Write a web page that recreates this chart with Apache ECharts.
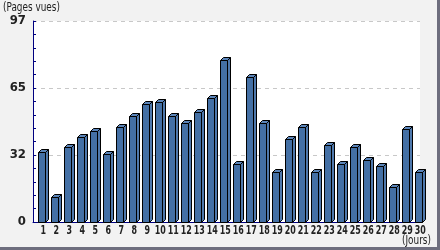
<!DOCTYPE html>
<html>
<head>
<meta charset="utf-8">
<script src="https://cdn.jsdelivr.net/npm/echarts@6/dist/echarts.min.js"></script>
<style>
html,body{margin:0;padding:0;background:#f2f2f2;}
#c{width:440px;height:250px;}
</style>
</head>
<body>
<div id="c"></div>
<script>
const days = ['1','2','3','4','5','6','7','8','9','10','11','12','13','14','15','16','17','18','19','20','21','22','23','24','25','26','27','28','29','30'];
const pageViews = [34,12,36,41,44,33,46,51,57,58,51,48,53,60,78,28,70,48,24,40,46,24,37,28,36,30,27,17,45,24];
const yMax = 97;
const yTickCount = 3;
const yAxisTitle = '(Pages vues)';
const xAxisTitle = '(Jours)';

const FONT = "'DejaVu Sans Condensed','DejaVu Sans',sans-serif";
const chart = echarts.init(document.getElementById('c'), null, {renderer: 'canvas'});

function render3DBar(params, api) {
  const idx = api.value(0);
  const v = api.value(1);
  const top = api.coord([idx, v]);
  const base = api.coord([idx, 0]);
  const xc = Math.round(top[0]);
  const yT = Math.round(top[1]) + 0.5;
  const y0 = Math.round(base[1]) + 0.5;
  const xl = xc - 5 + 0.5, xm = xc + 2 + 0.5, xr = xc + 5 + 0.5, d = 3;
  const st = {stroke: '#000', lineWidth: 1};
  return {
    type: 'group',
    children: [
      {type: 'polygon', shape: {points: [[xm, y0], [xr, y0 - d], [xr, yT - d], [xm, yT]]}, style: Object.assign({fill: '#4f79ad'}, st)},
      {type: 'polygon', shape: {points: [[xl, yT], [xl + d, yT - d], [xr, yT - d], [xm, yT]]}, style: Object.assign({fill: '#5b85ba'}, st)},
      {type: 'rect', shape: {x: xl, y: yT, width: xm - xl, height: y0 - yT}, style: Object.assign({fill: '#4470a5'}, st)}
    ]
  };
}

function renderDayLabel(params, api) {
  const idx = api.value(0);
  const base = api.coord([idx, 0]);
  return {
    type: 'text',
    x: base[0], y: base[1] + 2,
    scaleX: 0.68,
    style: {text: days[idx], textAlign: 'center', textVerticalAlign: 'top', font: 'bold 13px ' + FONT, fill: '#222'}
  };
}

chart.setOption({
  animation: false,
  backgroundColor: '#f2f2f2',
  grid: [
    {left: 33, right: 20, top: 21, bottom: 28, show: true, backgroundColor: '#ffffff', borderWidth: 0},
    {left: 36.8, right: 13.2, top: 21, bottom: 28}
  ],
  xAxis: [
    {gridIndex: 0, type: 'value', min: 0, max: 1, show: true,
     axisLine: {show: true, lineStyle: {color: '#000080', width: 1}},
     axisTick: {show: false}, axisLabel: {show: false}, splitLine: {show: false}},
    {gridIndex: 1, type: 'category', data: days, boundaryGap: true,
     axisLine: {show: false}, axisTick: {show: false}, axisLabel: {show: false},
     splitLine: {show: false}}
  ],
  yAxis: [
    {gridIndex: 0, type: 'value', min: 0, max: yMax, interval: yMax / yTickCount,
     axisLine: {show: true, lineStyle: {color: '#000080', width: 1}},
     axisTick: {show: true, inside: true, length: 3, lineStyle: {color: '#000080'}},
     minorTick: {show: true, splitNumber: 5, length: 3, lineStyle: {color: '#000080'}},
     axisLabel: {formatter: v => String(Math.round(v)), color: '#222', fontFamily: FONT, fontSize: 13, margin: 7, fontWeight: 'bold'},
     splitLine: {show: true, lineStyle: {color: '#c8c8c8', type: [4, 4], width: 1}},
     minorSplitLine: {show: false}},
    {gridIndex: 1, type: 'value', min: 0, max: yMax, show: false}
  ],
  graphic: [
    {type: 'text', x: 3, y: 1, scaleX: 0.76, style: {text: yAxisTitle, font: '13px ' + FONT, fill: '#222'}},
    {type: 'text', x: 402, y: 234, scaleX: 0.76, style: {text: xAxisTitle, font: '13px ' + FONT, fill: '#222'}},
    {type: 'rect', shape: {x: 437, y: 0, width: 3, height: 250}, style: {fill: '#6e6e7e'}},
    {type: 'rect', shape: {x: 0, y: 247, width: 440, height: 3}, style: {fill: '#6e6e7e'}}
  ],
  series: [{
    type: 'custom',
    xAxisIndex: 1, yAxisIndex: 1,
    renderItem: render3DBar,
    encode: {x: 0, y: 1},
    data: pageViews.map((v, i) => [i, v])
  }, {
    type: 'custom',
    xAxisIndex: 1, yAxisIndex: 1,
    renderItem: renderDayLabel,
    clip: false,
    silent: true,
    encode: {x: 0, y: 1},
    data: days.map((d, i) => [i, 0])
  }]
});
</script>
</body>
</html>
